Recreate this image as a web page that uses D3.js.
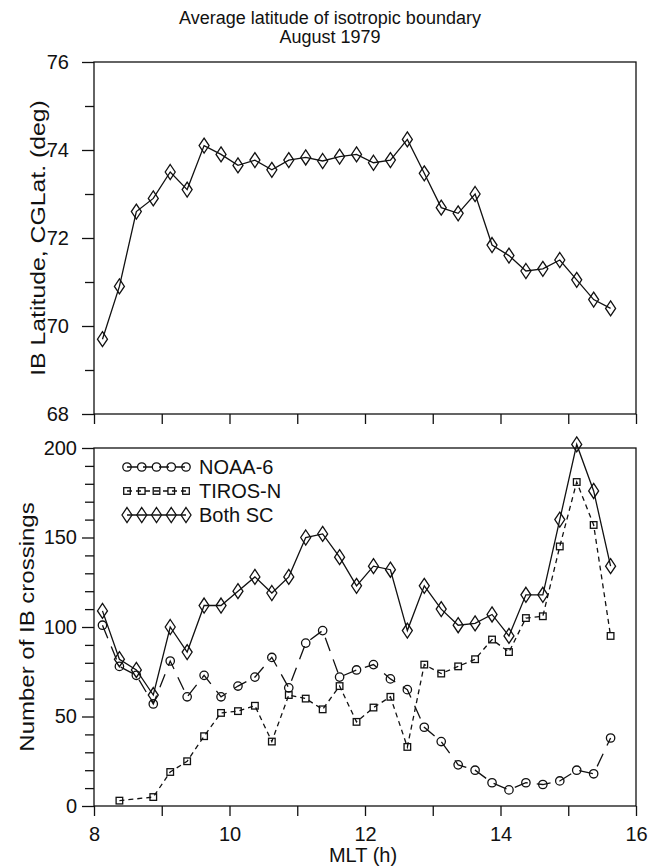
<!DOCTYPE html>
<html>
<head>
<meta charset="utf-8">
<script src="https://cdn.jsdelivr.net/npm/d3@7"></script>
<style>
    body { margin: 0; background: #fff; }
    svg text { font-family: "Liberation Sans", Arial, Helvetica, sans-serif; fill: #111; }
    .axis path, .axis line { stroke: #111; stroke-width: 1.3px; }
    .axis text { font-size: 20px; }
</style>
</head>
<body>
<div id="chart"></div>
<script>
    // magnetic local time of each bin (h)
    let mlt = [8.125, 8.375, 8.625, 8.875, 9.125, 9.375, 9.625, 9.875, 10.125, 10.375,
        10.625, 10.875, 11.125, 11.375, 11.625, 11.875, 12.125, 12.375, 12.625, 12.875,
        13.125, 13.375, 13.625, 13.875, 14.125, 14.375, 14.625, 14.875, 15.125, 15.375, 15.625];

    // average IB latitude, both spacecraft (deg)
    let latitude = [69.7, 70.9, 72.6, 72.9, 73.5, 73.1, 74.1, 73.9, 73.65, 73.77,
        73.55, 73.77, 73.83, 73.75, 73.85, 73.9, 73.71, 73.77, 74.24, 73.47,
        72.69, 72.56, 73.0, 71.84, 71.6, 71.25, 71.3, 71.5, 71.05, 70.6, 70.4];

    // number of IB crossings
    let noaa6 = [101, 78, 73, 57, 81, 61, 73, 61, 67, 72,
        83, 66, 91, 98, 72, 76, 79, 71, 65, 44,
        36, 23, 20, 13, 9, 13, 12, 14, 20, 18, 38];
    let tirosN = [null, 3, null, 5, 19, 25, 39, 52, 53, 56,
        36, 62, 60, 54, 67, 47, 55, 61, 33, 79,
        74, 78, 82, 93, 86, 105, 106, 145, 181, 157, 95];
    let bothSC = [109, 82, 76, 62, 100, 86, 112, 112, 120, 128,
        119, 128, 150, 152, 139, 123, 134, 132, 98, 123,
        110, 101, 102, 107, 95, 118, 118, 160, 202, 176, 134];

    let xTicks = [8, 9, 10, 11, 12, 13, 14, 15, 16];
    let xLabels = [8, 10, 12, 14, 16];
    let latTicks = [68, 70, 72, 74, 76];
    let latMinor = [69, 71, 73, 75];
    let countTicks = [0, 50, 100, 150, 200];
    let countMinor = [10, 20, 30, 40, 60, 70, 80, 90, 110, 120, 130, 140, 160, 170, 180, 190];

    let seriesNames = ["NOAA-6", "TIROS-N", "Both SC"];

    let W = 660, H = 866;
    let left = 94, right = 636;
    let top1 = 62, bottom1 = 414;
    let top2 = 448, bottom2 = 806;

    let svg = d3.select("#chart")
        .append("svg")
        .attr("width", W)
        .attr("height", H);

    let x = d3.scaleLinear().domain([8, 16]).range([left, right]);
    let yLat = d3.scaleLinear().domain([68, 76]).range([bottom1, top1]);
    let yCount = d3.scaleLinear().domain([0, 200]).range([bottom2, top2]);

    // marker shapes
    function drawMarker(g, kind, cx, cy) {
        if (kind === "circle") {
            g.append("circle").attr("cx", cx).attr("cy", cy).attr("r", 4.2)
                .attr("fill", "none").attr("stroke", "#111").attr("stroke-width", 1.3);
        } else if (kind === "square") {
            g.append("rect").attr("x", cx - 3.3).attr("y", cy - 3.3)
                .attr("width", 6.6).attr("height", 6.6)
                .attr("fill", "none").attr("stroke", "#111").attr("stroke-width", 1.3);
        } else {
            g.append("path")
                .attr("d", `M${cx},${cy - 7.5}L${cx + 5},${cy}L${cx},${cy + 7.5}L${cx - 5},${cy}Z`)
                .attr("fill", "none").attr("stroke", "#111").attr("stroke-width", 1.3);
        }
    }

    let styles = {
        "NOAA-6": { marker: "circle", dash: "14,9" },
        "TIROS-N": { marker: "square", dash: "5,4" },
        "Both SC": { marker: "diamond", dash: null }
    };

    function drawSeries(yScale, values, name) {
        let pts = mlt.map((m, i) => [m, values[i]]).filter(d => d[1] != null);
        let line = d3.line().x(d => x(d[0])).y(d => yScale(d[1]));
        let g = svg.append("g");
        g.append("path")
            .datum(pts)
            .attr("d", line)
            .attr("fill", "none")
            .attr("stroke", "#111")
            .attr("stroke-width", 1.3)
            .attr("stroke-dasharray", styles[name].dash);
        pts.forEach(d => drawMarker(g, styles[name].marker, x(d[0]), yScale(d[1])));
    }

    // ---------- top panel ----------
    svg.append("rect")
        .attr("x", left).attr("y", top1)
        .attr("width", right - left).attr("height", bottom1 - top1)
        .attr("fill", "none").attr("stroke", "#111").attr("stroke-width", 1.3);

    svg.append("g")
        .attr("class", "axis")
        .attr("transform", `translate(${left},0)`)
        .call(d3.axisLeft(yLat).tickValues(latTicks).tickSize(12).tickPadding(13).tickFormat(d3.format("d")))
        .call(g => g.select(".domain").remove());

    svg.append("g")
        .attr("class", "axis")
        .attr("transform", `translate(${left},0)`)
        .call(d3.axisLeft(yLat).tickValues(latMinor).tickSize(9).tickFormat(""))
        .call(g => g.select(".domain").remove());

    svg.append("g")
        .attr("class", "axis")
        .attr("transform", `translate(0,${bottom1})`)
        .call(d3.axisBottom(x).tickValues(xTicks).tickSize(10).tickFormat(""))
        .call(g => g.select(".domain").remove());

    drawSeries(yLat, latitude, "Both SC");

    svg.append("text")
        .attr("transform", `translate(45,${(top1 + bottom1) / 2}) rotate(-90) scale(1.24,1)`)
        .attr("text-anchor", "middle")
        .style("font-size", "20px")
        .text("IB Latitude, CGLat. (deg)");

    // ---------- bottom panel ----------
    svg.append("rect")
        .attr("x", left).attr("y", top2)
        .attr("width", right - left).attr("height", bottom2 - top2)
        .attr("fill", "none").attr("stroke", "#111").attr("stroke-width", 1.3);

    svg.append("g")
        .attr("class", "axis")
        .attr("transform", `translate(${left},0)`)
        .call(d3.axisLeft(yCount).tickValues(countTicks).tickSize(12).tickPadding(5))
        .call(g => g.select(".domain").remove());

    svg.append("g")
        .attr("class", "axis")
        .attr("transform", `translate(${left},0)`)
        .call(d3.axisLeft(yCount).tickValues(countMinor).tickSize(9).tickFormat(""))
        .call(g => g.select(".domain").remove());

    svg.append("g")
        .attr("class", "axis")
        .attr("transform", `translate(0,${bottom2})`)
        .call(d3.axisBottom(x).tickValues(xTicks).tickSize(10).tickPadding(11)
            .tickFormat(d => xLabels.includes(d) ? d : ""))
        .call(g => g.select(".domain").remove());

    drawSeries(yCount, noaa6, "NOAA-6");
    drawSeries(yCount, tirosN, "TIROS-N");
    drawSeries(yCount, bothSC, "Both SC");

    svg.append("text")
        .attr("transform", `translate(34,${(top2 + bottom2) / 2}) rotate(-90) scale(1.2,1)`)
        .attr("text-anchor", "middle")
        .style("font-size", "20px")
        .text("Number of IB crossings");

    svg.append("text")
        .attr("x", 363).attr("y", 862)
        .attr("text-anchor", "middle")
        .style("font-size", "20px")
        .text("MLT (h)");

    // legend
    seriesNames.forEach(function (name, i) {
        let ly = 467 + i * 24;
        let lg = svg.append("g");
        let xs = [127, 141.75, 156.5, 171.25, 186];
        lg.append("line")
            .attr("x1", xs[0]).attr("x2", xs[4])
            .attr("y1", ly).attr("y2", ly)
            .attr("stroke", "#111").attr("stroke-width", 1.3)
            .attr("stroke-dasharray", name === "NOAA-6" ? "10,6" : styles[name].dash);
        xs.forEach(lx => drawMarker(lg, styles[name].marker, lx, ly));
        lg.append("text")
            .attr("x", 199).attr("y", ly)
            .attr("dy", "0.36em")
            .style("font-size", "20px")
            .text(name);
    });

    // title
    svg.append("text")
        .attr("x", 330).attr("y", 24)
        .attr("text-anchor", "middle")
        .style("font-size", "18px")
        .text("Average latitude of isotropic boundary");
    svg.append("text")
        .attr("x", 330).attr("y", 43)
        .attr("text-anchor", "middle")
        .style("font-size", "18px")
        .text("August 1979");
</script>
</body>
</html>
